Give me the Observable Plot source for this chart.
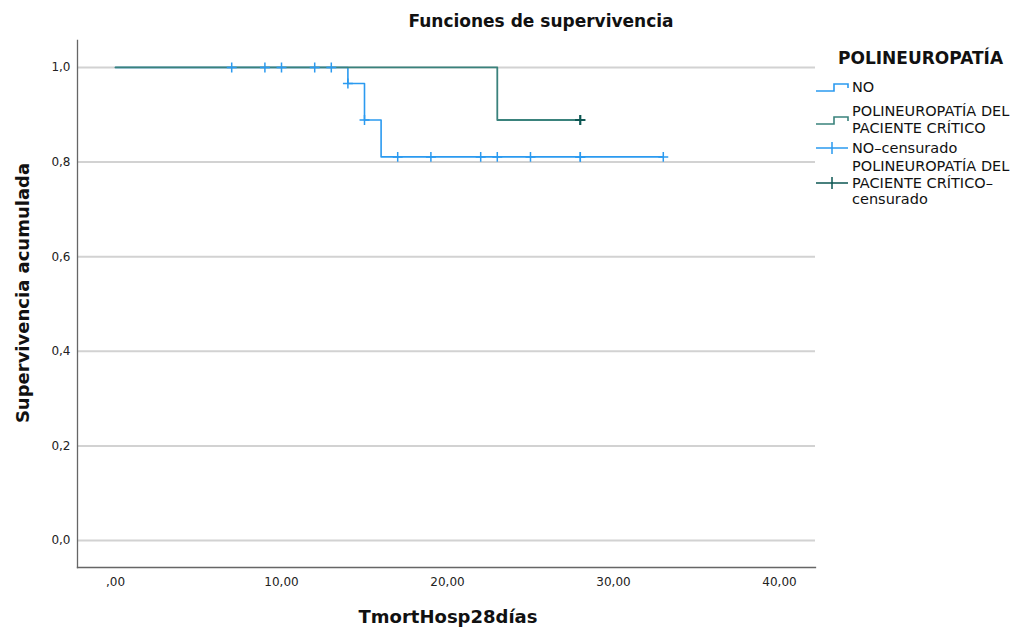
<!DOCTYPE html>
<html><head><meta charset="utf-8">
<script src="https://cdn.jsdelivr.net/npm/d3@7"></script>
<script src="https://cdn.jsdelivr.net/npm/@observablehq/plot@0.6"></script>
<style>
body{margin:0;background:#fff;font-family:"DejaVu Sans",sans-serif;color:#111}
#wrap{position:relative;width:1032px;height:628px;overflow:hidden}
#title{position:absolute;left:0;width:1082px;top:11px;text-align:center;font-weight:bold;font-size:17px}
#xlab{position:absolute;left:448px;top:616px;transform:translate(-50%,-50%);font-weight:bold;font-size:18px;white-space:nowrap}
#ylab{position:absolute;left:22px;top:293px;transform:translate(-50%,-50%) rotate(-90deg);font-weight:bold;font-size:18px;white-space:nowrap}
#legend{position:absolute;left:0;top:0}
#legtitle{position:absolute;left:838px;top:48px;font-weight:bold;font-size:17px;white-space:nowrap}
.row{position:absolute;left:815px;display:flex;align-items:center}
.row svg{width:36px;height:16px;flex:none}
.row div{font-size:14.5px;line-height:16.5px;margin-left:1px;white-space:nowrap}
</style></head>
<body><div id="wrap"><div id="chart"></div>
<div id="title">Funciones de supervivencia</div>
<div id="xlab">TmortHosp28días</div>
<div id="ylab">Supervivencia acumulada</div>
<div id="legend"></div>
</div>
<script>
// Data
const groups = ["NO", "POLINEUROPATÍA DEL PACIENTE CRÍTICO"];
const noTimes = [0, 14, 15, 16, 33];
const noSurv = [1, 0.966, 0.889, 0.811, 0.811];
const ppcTimes = [0, 23, 28];
const ppcSurv = [1, 0.889, 0.889];
const noCensorTimes = [7, 9, 10, 12, 13, 14, 15, 17, 19, 22, 23, 25, 28, 28, 33];
const ppcCensorTimes = [28, 28];
const xTicks = [0, 10, 20, 30, 40];
const yTicks = [0, 0.2, 0.4, 0.6, 0.8, 1.0];
const legendLabels = ["NO", "POLINEUROPATÍA DEL<br>PACIENTE CRÍTICO", "NO–censurado", "POLINEUROPATÍA DEL<br>PACIENTE CRÍTICO–<br>censurado"];

const colNo = "#2b9af0", colPpc = "#3a827c", colPpcCens = "#0d5753";

function stepVal(times, surv, t) { let v = surv[0]; for (let i = 0; i < times.length; i++) if (times[i] <= t) v = surv[i]; return v; }
const curves = [
  ...noTimes.map((t, i) => ({g: groups[0], t, s: noSurv[i]})),
  ...ppcTimes.map((t, i) => ({g: groups[1], t, s: ppcSurv[i]}))
];
const censors = [
  ...noCensorTimes.map(t => ({g: groups[0], t, s: stepVal(noTimes, noSurv, t)})),
  ...ppcCensorTimes.map(t => ({g: groups[1], t, s: stepVal(ppcTimes, ppcSurv, t)}))
];

const fmtX = d => d === 0 ? ",00" : d.toFixed(2).replace(".", ",");
const fmtY = d => d.toFixed(1).replace(".", ",");

const chart = Plot.plot({
  width: 1032, height: 628,
  marginLeft: 77, marginRight: 217, marginTop: 40, marginBottom: 61,
  style: {fontFamily: '"DejaVu Sans", sans-serif', fontSize: "12px", color: "#222", background: "#fff"},
  x: {domain: [-2.29, 42.17]},
  y: {domain: [-0.057, 1.057]},
  marks: [
    Plot.ruleY(yTicks, {stroke: "#d2d2d2", strokeWidth: 2}),
    Plot.axisX({ticks: xTicks, tickFormat: fmtX, tickSize: 0, tickPadding: 10, label: null, fontSize: 12}),
    Plot.axisY({ticks: yTicks, tickFormat: fmtY, tickSize: 0, tickPadding: 7, label: null, fontSize: 12}),
    Plot.frame({anchor: "left", stroke: "#666", strokeWidth: 1.3}),
    Plot.frame({anchor: "bottom", stroke: "#666", strokeWidth: 1.3}),
    Plot.line(curves.filter(d => d.g === groups[0]), {x: "t", y: "s", curve: "step-after", stroke: colNo, strokeWidth: 1.6}),
    Plot.line(curves.filter(d => d.g === groups[1]), {x: "t", y: "s", curve: "step-after", stroke: colPpc, strokeWidth: 1.8}),
    Plot.dot(censors.filter(d => d.g === groups[0]), {x: "t", y: "s", symbol: "plus", r: 3.3, stroke: colNo, strokeWidth: 1.5}),
    Plot.dot(censors.filter(d => d.g === groups[1]), {x: "t", y: "s", symbol: "plus", r: 3.3, stroke: colPpcCens, strokeWidth: 1.8})
  ]
});
document.getElementById("chart").appendChild(chart);

// Legend
const leg = document.getElementById("legend");
leg.innerHTML = '<div id="legtitle">POLINEUROPATÍA</div>';
const stepSym = c => `<svg viewBox="0 0 36 16"><path d="M1,12H19V5H33V9" fill="none" stroke="${c}" stroke-width="1.6"/></svg>`;
const plusSym = c => `<svg viewBox="0 0 36 16"><path d="M1,8H33M17,2V14" fill="none" stroke="${c}" stroke-width="1.5"/></svg>`;
const syms = [stepSym(colNo), stepSym(colPpc), plusSym(colNo), plusSym(colPpcCens)];
const tops = [79, 103, 140, 158];
legendLabels.forEach((lab, i) => {
  const r = document.createElement("div");
  r.className = "row"; r.style.top = tops[i] + "px";
  r.innerHTML = syms[i] + `<div>${lab}</div>`;
  leg.appendChild(r);
});
</script>
</body></html>
